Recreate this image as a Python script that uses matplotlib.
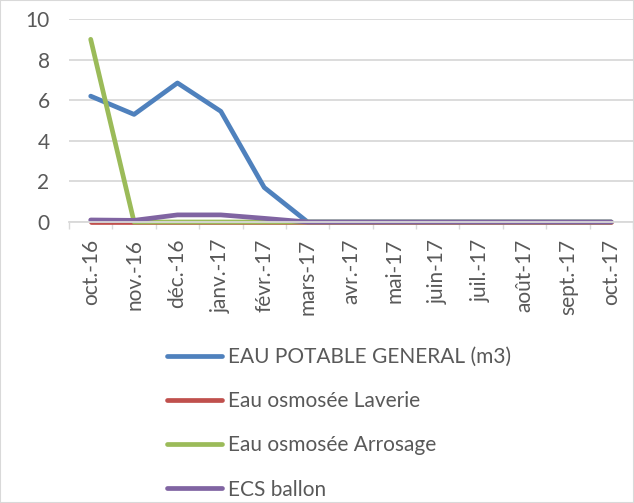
import matplotlib.pyplot as plt
from matplotlib.patches import Rectangle

months = ["oct.-16", "nov.-16", "déc.-16", "janv.-17", "févr.-17", "mars-17", "avr.-17",
          "mai-17", "juin-17", "juil.-17", "août-17", "sept.-17", "oct.-17"]
eau_potable = [6.2, 5.3, 6.85, 5.45, 1.7, 0, 0, 0, 0, 0, 0, 0, 0]
osmo_laverie = [0, 0, 0, 0, 0, 0, 0, 0, 0, 0, 0, 0, 0]
osmo_arrosage = [9.0, 0, 0, 0, 0, 0, 0, 0, 0, 0, 0, 0, 0]
ecs_ballon = [0.1, 0.08, 0.35, 0.35, 0.18, 0, 0, 0, 0, 0, 0, 0, 0]

series = [
    ("EAU POTABLE GENERAL (m3)", eau_potable, "#4F81BD"),
    ("Eau osmosée Laverie", osmo_laverie, "#C0504D"),
    ("Eau osmosée Arrosage", osmo_arrosage, "#9BBB59"),
    ("ECS ballon", ecs_ballon, "#8064A2"),
]

plt.rcParams["font.family"] = ["Lato", "DejaVu Sans"]
text_color = "#595959"
grid_color = "#d9d9d9"
fs = 15

fig = plt.figure(figsize=(6.34, 5.03), dpi=100)
fig.patches.append(Rectangle((0, 0), 1, 1, transform=fig.transFigure, fill=False,
                             edgecolor=grid_color, linewidth=1.5))
ax = fig.add_axes([69 / 634, 1 - 222 / 503, 564 / 634, 203 / 503])

x = list(range(len(months)))
for label, vals, color in series:
    ax.plot(x, vals, color=color, lw=3.4, label=label, solid_capstyle="round",
            solid_joinstyle="round", clip_on=False)

ax.set_xlim(-0.5, len(months) - 0.5)
ax.set_ylim(0, 10)
ax.set_yticks([0, 2, 4, 6, 8, 10])
ax.yaxis.grid(True, color=grid_color, lw=1.3)
ax.set_axisbelow(True)
ax.tick_params(axis="y", length=0, labelsize=fs, labelcolor=text_color, pad=14)

ax.set_xticks([i - 0.5 for i in range(len(months) + 1)])
ax.set_xticklabels([])
ax.tick_params(axis="x", which="major", length=5, color=grid_color, width=1)
ax.set_xticks(x, minor=True)
ax.set_xticklabels(months, minor=True, rotation=90, fontsize=fs, color=text_color)
ax.tick_params(axis="x", which="minor", length=0, pad=12)

for s in ["top", "right", "left"]:
    ax.spines[s].set_visible(False)
ax.spines["bottom"].set_color(grid_color)
ax.spines["bottom"].set_linewidth(1.3)

fig.legend(loc="upper left", bbox_to_anchor=(167 / 634, 1 - 347 / 503), frameon=False,
           fontsize=fs, labelcolor=text_color, handlelength=2.65, handletextpad=0.3,
           labelspacing=1.16, borderpad=0, borderaxespad=0)

fig.savefig("out.png", dpi=100)
